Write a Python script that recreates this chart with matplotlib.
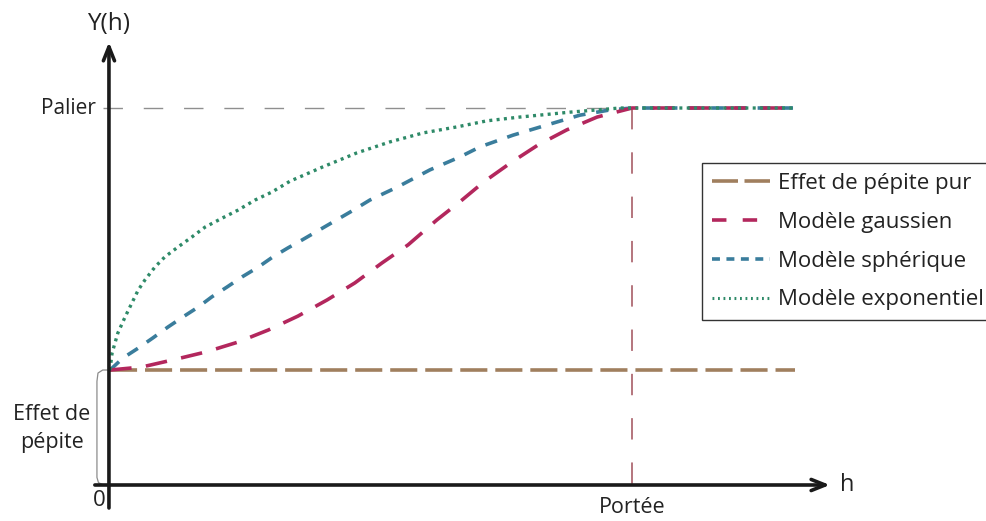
import matplotlib
matplotlib.use("Agg")
import matplotlib.pyplot as plt
from matplotlib.lines import Line2D

plt.rcParams['font.family'] = ['Open Sans', 'DejaVu Sans']

# Variogram parameters (h in units of the range, gamma in units of the sill)
nugget = 0.305
sill = 1.0
portee = 1.0
h_max = 1.312

# Exponential model
h_exp = [0.000, 0.004, 0.015, 0.029, 0.042, 0.054, 0.067, 0.086, 0.105, 0.130,
         0.157, 0.182, 0.215, 0.245, 0.278, 0.310, 0.345, 0.408, 0.473, 0.536,
         0.600, 0.665, 0.722, 0.785, 0.881, 0.977, 1.312]
g_exp = [0.305, 0.350, 0.403, 0.446, 0.483, 0.517, 0.544, 0.578, 0.605, 0.631,
         0.658, 0.684, 0.708, 0.729, 0.756, 0.777, 0.806, 0.844, 0.881, 0.910,
         0.934, 0.950, 0.966, 0.976, 0.989, 1.000, 1.000]

# Spherical model
h_sph = [0.000, 0.025, 0.054, 0.082, 0.111, 0.140, 0.169, 0.195, 0.224, 0.253,
         0.284, 0.312, 0.341, 0.368, 0.460, 0.498, 0.550, 0.613, 0.670, 0.709,
         0.772, 0.837, 0.900, 0.958, 1.000, 1.312]
g_sph = [0.305, 0.337, 0.363, 0.390, 0.419, 0.446, 0.472, 0.499, 0.525, 0.552,
         0.578, 0.605, 0.629, 0.650, 0.724, 0.756, 0.790, 0.836, 0.870, 0.897,
         0.928, 0.955, 0.981, 0.995, 1.000, 1.000]

# Gaussian model
h_gau = [0.000, 0.061, 0.121, 0.184, 0.245, 0.303, 0.360, 0.416, 0.469, 0.521,
         0.571, 0.626, 0.670, 0.716, 0.770, 0.820, 0.875, 0.933, 1.000, 1.312]
g_gau = [0.305, 0.313, 0.332, 0.353, 0.379, 0.411, 0.448, 0.491, 0.536, 0.589,
         0.637, 0.703, 0.751, 0.804, 0.857, 0.902, 0.942, 0.976, 1.000, 1.000]

labels = ["Effet de pépite pur", "Modèle gaussien", "Modèle sphérique", "Modèle exponentiel"]

c_nug = '#a07f5e'
c_gau = '#b3275d'
c_sph = '#3a7d9c'
c_exp = '#2e8a68'
c_txt = '#222222'

fig = plt.figure(figsize=(9.86, 5.21), dpi=100)
ax = fig.add_axes([0, 0, 1, 1])
ax.set_xlim(-0.2107, 1.678)
ax.set_ylim(-0.0955, 1.2865)
ax.axis('off')

# reference lines: sill and range
ax.plot([-0.014, portee], [sill, sill], color='#8f8f8f', lw=1.0, dashes=(14, 15))
ax.plot([portee, portee], [sill, -0.012], color='#a0505a', lw=1.1, dashes=(14, 15))

# models
ax.plot([0, h_max], [nugget, nugget], color=c_nug, lw=2.6, dashes=(7.5, 2.2), zorder=3)
ax.plot(h_sph, g_sph, color=c_sph, lw=2.6, dashes=(3.4, 3.0), zorder=4)
ax.plot(h_gau, g_gau, color=c_gau, lw=2.6, dashes=(6, 4.0), zorder=5)
ax.plot(h_exp, g_exp, color=c_exp, lw=2.4, dashes=(0.9, 1.3), zorder=6)

# axes with arrows
arrow = dict(arrowstyle='->,head_length=1.0,head_width=0.4',
             lw=2.6, color='#1a1a1a', shrinkA=0, shrinkB=0)
ax.annotate('', xy=(1.379, 0), xytext=(-0.029, 0), arrowprops=arrow, zorder=7)
ax.annotate('', xy=(-0.002, 1.175), xytext=(-0.002, -0.061), arrowprops=arrow, zorder=7)

# bracket showing the nugget effect
bx = [0.0, -0.014, -0.023, -0.025, -0.025, -0.022, -0.012]
by = [nugget, nugget, nugget - 0.008, nugget - 0.03, 0.02, 0.006, 0.0]
ax.plot(bx, by, color='#8c8c8c', lw=0.9, zorder=2)

ax.text(-0.002, 1.223, "Y(h)", ha='center', va='center', fontsize=17.5, color=c_txt)
ax.text(-0.027, sill, "Palier", ha='right', va='center', fontsize=15, color=c_txt)
ax.text(1.398, 0, "h", ha='left', va='center', fontsize=17, color=c_txt)
ax.text(-0.009, -0.04, "0", ha='right', va='center', fontsize=16, color=c_txt)
ax.text(portee, -0.061, "Portée", ha='center', va='center', fontsize=15.5, color=c_txt)
ax.text(-0.112, 0.15, "Effet de\npépite", ha='center', va='center', fontsize=15.5,
        color=c_txt, linespacing=1.4)

handles = [
    Line2D([], [], color=c_nug, lw=2.6, dashes=(7.2, 1.8)),
    Line2D([], [], color=c_gau, lw=2.6, dashes=(4.0, 4.5)),
    Line2D([], [], color=c_sph, lw=2.6, dashes=(2.2, 1.8)),
    Line2D([], [], color=c_exp, lw=2.2, dashes=(0.6, 1.2)),
]
leg = fig.legend(handles, labels, loc='upper left', bbox_to_anchor=(0.712, 0.687),
                 fontsize=16, frameon=True, fancybox=False, edgecolor='#333333',
                 framealpha=1, handlelength=2.6, handletextpad=0.36,
                 labelspacing=0.8, borderpad=0.45, borderaxespad=0)
leg.get_frame().set_linewidth(1.0)
for t in leg.get_texts():
    t.set_color(c_txt)

fig.savefig("out.png", dpi=100)
